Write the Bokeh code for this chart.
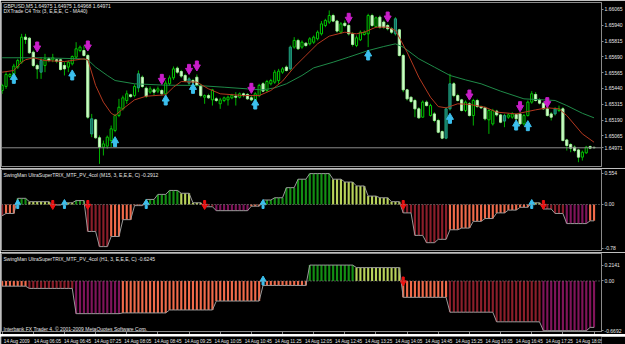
import numpy as np
from bokeh.plotting import figure
from bokeh.layouts import column
from bokeh.models import Range1d, FixedTicker, PrintfTickFormatter, Label, Span
from bokeh.core.properties import value
from bokeh.embed import file_html
from bokeh.resources import INLINE

# ---------------- data ----------------
tick_idx = [0, 8, 16, 24, 32, 40, 48, 56, 64, 72, 80, 88, 96, 104, 112, 120, 128, 136, 144, 152]
tick_labels = ["14 Aug 2009", "14 Aug 06:05", "14 Aug 06:45", "14 Aug 07:25", "14 Aug 08:05",
               "14 Aug 08:45", "14 Aug 09:25", "14 Aug 10:05", "14 Aug 10:45", "14 Aug 11:25",
               "14 Aug 12:05", "14 Aug 12:45", "14 Aug 13:25", "14 Aug 14:05", "14 Aug 14:45",
               "14 Aug 15:25", "14 Aug 16:05", "14 Aug 16:45", "14 Aug 17:25", "14 Aug 18:05"]

opens = [1.65424, 1.65456, 1.65535, 1.65551, 1.65609, 1.65648, 1.65846, 1.65838, 1.65727, 1.65622,
         1.65569, 1.65622, 1.65675, 1.65667, 1.65667, 1.65667, 1.65622, 1.65609, 1.65635, 1.65688,
         1.65740, 1.65740, 1.65701, 1.65200, 1.65192, 1.65050, 1.64976, 1.64984, 1.65028, 1.65108,
         1.65226, 1.65279, 1.65345, 1.65390, 1.65384, 1.65445, 1.65529, 1.65442, 1.65411, 1.65429,
         1.65419, 1.65424, 1.65398, 1.65477, 1.65524, 1.65601, 1.65574, 1.65543, 1.65482, 1.65503,
         1.65529, 1.65464, 1.65371, 1.65384, 1.65350, 1.65358, 1.65319, 1.65345, 1.65350, 1.65366,
         1.65379, 1.65371, 1.65398, 1.65393, 1.65366, 1.65345, 1.65384, 1.65477, 1.65424, 1.65477,
         1.65490, 1.65503, 1.65569, 1.65609, 1.65595, 1.65767, 1.65820, 1.65767, 1.65798, 1.65793,
         1.65806, 1.65833, 1.65872, 1.65938, 1.65965, 1.66017, 1.65973, 1.65885, 1.65956, 1.65938,
         1.65872, 1.65780, 1.65825, 1.65867, 1.65872, 1.66017, 1.65930, 1.66004, 1.65965, 1.65938,
         1.65912, 1.65872, 1.65904, 1.65701, 1.65429, 1.65371, 1.65345, 1.65279, 1.65213, 1.65332,
         1.65226, 1.65239, 1.65187, 1.65099, 1.65047, 1.65279, 1.65477, 1.65384, 1.65350, 1.65266,
         1.65319, 1.65226, 1.65345, 1.65297, 1.65287, 1.65192, 1.65160, 1.65261, 1.65231, 1.65182,
         1.65213, 1.65213, 1.65234, 1.65239, 1.65160, 1.65226, 1.65332, 1.65393, 1.65350, 1.65324,
         1.65279, 1.65239, 1.65239, 1.65266, 1.65279, 1.65033, 1.64997, 1.64976, 1.64954, 1.64897,
         1.64931, 1.64981, 1.64975]
highs = [1.65477, 1.65569, 1.65561, 1.65635, 1.65675, 1.65872, 1.65872, 1.65846, 1.65740, 1.65635,
         1.65688, 1.65714, 1.65688, 1.65714, 1.65675, 1.65675, 1.65648, 1.65661, 1.65701, 1.65806,
         1.65780, 1.65780, 1.65714, 1.65239, 1.65200, 1.65068, 1.65028, 1.65068, 1.65147, 1.65239,
         1.65358, 1.65384, 1.65424, 1.65398, 1.65472, 1.65582, 1.65543, 1.65456, 1.65456, 1.65445,
         1.65456, 1.65437, 1.65503, 1.65543, 1.65614, 1.65614, 1.65587, 1.65556, 1.65529, 1.65516,
         1.65551, 1.65477, 1.65393, 1.65398, 1.65437, 1.65371, 1.65366, 1.65376, 1.65384, 1.65398,
         1.65411, 1.65408, 1.65408, 1.65403, 1.65384, 1.65411, 1.65477, 1.65490, 1.65508, 1.65516,
         1.65587, 1.65595, 1.65609, 1.65622, 1.65780, 1.65846, 1.65833, 1.65820, 1.65806, 1.65846,
         1.65859, 1.65899, 1.65973, 1.65991, 1.66057, 1.66031, 1.65983, 1.65965, 1.65978, 1.65951,
         1.65885, 1.65859, 1.65899, 1.65899, 1.66031, 1.66031, 1.66009, 1.66017, 1.65978, 1.65951,
         1.65925, 1.66004, 1.65912, 1.65714, 1.65437, 1.65376, 1.65358, 1.65292, 1.65345, 1.65345,
         1.65319, 1.65253, 1.65200, 1.65108, 1.65292, 1.65556, 1.65490, 1.65398, 1.65358, 1.65345,
         1.65332, 1.65358, 1.65358, 1.65305, 1.65297, 1.65279, 1.65279, 1.65271, 1.65239, 1.65239,
         1.65244, 1.65253, 1.65244, 1.65253, 1.65239, 1.65345, 1.65419, 1.65411, 1.65363, 1.65332,
         1.65292, 1.65253, 1.65292, 1.65305, 1.65292, 1.65042, 1.65007, 1.64989, 1.64963, 1.64949,
         1.64986, 1.64989, 1.64975]
lows = [1.65398, 1.65437, 1.65524, 1.65543, 1.65595, 1.65635, 1.65793, 1.65714, 1.65609, 1.65516,
        1.65516, 1.65569, 1.65648, 1.65648, 1.65640, 1.65582, 1.65543, 1.65569, 1.65622, 1.65675,
        1.65727, 1.65693, 1.65200, 1.65055, 1.65042, 1.64844, 1.64910, 1.64963, 1.64976, 1.65094,
        1.65213, 1.65266, 1.65319, 1.65366, 1.65371, 1.65411, 1.65445, 1.65366, 1.65398, 1.65384,
        1.65403, 1.65384, 1.65384, 1.65464, 1.65508, 1.65556, 1.65524, 1.65490, 1.65464, 1.65477,
        1.65456, 1.65371, 1.65319, 1.65358, 1.65305, 1.65332, 1.65279, 1.65332, 1.65305, 1.65355,
        1.65305, 1.65361, 1.65371, 1.65350, 1.65340, 1.65332, 1.65371, 1.65411, 1.65411, 1.65464,
        1.65477, 1.65477, 1.65556, 1.65574, 1.65582, 1.65754, 1.65745, 1.65754, 1.65767, 1.65780,
        1.65793, 1.65820, 1.65859, 1.65925, 1.65951, 1.65965, 1.65882, 1.65872, 1.65925, 1.65859,
        1.65772, 1.65767, 1.65815, 1.65859, 1.65767, 1.65925, 1.65920, 1.65912, 1.65912, 1.65899,
        1.65872, 1.65859, 1.65693, 1.65411, 1.65345, 1.65324, 1.65213, 1.65200, 1.65208, 1.65297,
        1.65218, 1.65173, 1.65086, 1.65039, 1.65039, 1.65266, 1.65371, 1.65337, 1.65258, 1.65253,
        1.65218, 1.65147, 1.65287, 1.65279, 1.65187, 1.65081, 1.65147, 1.65218, 1.65165, 1.65134,
        1.65200, 1.65200, 1.65187, 1.65155, 1.65147, 1.65218, 1.65319, 1.65337, 1.65314, 1.65271,
        1.65218, 1.65187, 1.65226, 1.65253, 1.65023, 1.64949, 1.64936, 1.64936, 1.64857, 1.64870,
        1.64923, 1.64960, 1.64968]
closes = [1.65464, 1.65551, 1.65551, 1.65617, 1.65661, 1.65846, 1.65828, 1.65722, 1.65622, 1.65595,
          1.65661, 1.65675, 1.65661, 1.65683, 1.65656, 1.65590, 1.65595, 1.65648, 1.65693, 1.65754,
          1.65767, 1.65701, 1.65213, 1.65081, 1.65050, 1.64976, 1.65002, 1.65055, 1.65121, 1.65226,
          1.65292, 1.65366, 1.65398, 1.65376, 1.65456, 1.65556, 1.65456, 1.65379, 1.65437, 1.65411,
          1.65437, 1.65398, 1.65482, 1.65524, 1.65595, 1.65569, 1.65538, 1.65503, 1.65516, 1.65490,
          1.65464, 1.65384, 1.65384, 1.65366, 1.65429, 1.65345, 1.65350, 1.65366, 1.65371, 1.65387,
          1.65371, 1.65398, 1.65384, 1.65358, 1.65350, 1.65398, 1.65464, 1.65419, 1.65495, 1.65503,
          1.65569, 1.65577, 1.65595, 1.65582, 1.65767, 1.65820, 1.65754, 1.65806, 1.65780, 1.65833,
          1.65846, 1.65885, 1.65951, 1.65978, 1.66017, 1.65973, 1.65894, 1.65951, 1.65938, 1.65872,
          1.65788, 1.65841, 1.65885, 1.65885, 1.66017, 1.65938, 1.65999, 1.65925, 1.65925, 1.65912,
          1.65885, 1.65991, 1.65701, 1.65429, 1.65358, 1.65337, 1.65279, 1.65208, 1.65332, 1.65305,
          1.65305, 1.65187, 1.65094, 1.65047, 1.65279, 1.65477, 1.65384, 1.65345, 1.65266, 1.65332,
          1.65226, 1.65345, 1.65297, 1.65287, 1.65200, 1.65266, 1.65266, 1.65231, 1.65173, 1.65226,
          1.65231, 1.65239, 1.65200, 1.65160, 1.65226, 1.65332, 1.65398, 1.65345, 1.65324, 1.65279,
          1.65226, 1.65213, 1.65279, 1.65279, 1.65028, 1.64989, 1.64968, 1.64949, 1.64897, 1.64936,
          1.64976, 1.64968, 1.64971]
teal_bars = [10, 23, 35, 48, 74, 101, 114, 115, 129, 142]

ma_fast_idx = [0, 3, 5, 6, 8, 11, 16, 21, 22, 24, 26, 28, 29, 31, 34, 37, 42, 44, 46, 50, 53, 56, 62,
               66, 69, 72, 75, 78, 81, 84, 88, 91, 93, 96, 99, 101, 104, 107, 110, 112, 114, 117, 120,
               124, 127, 132, 137, 140, 143, 145, 149, 152]
ma_fast_val = [1.65569, 1.65582, 1.65648, 1.65667, 1.65683, 1.65661, 1.65653, 1.65675, 1.65667, 1.65464,
               1.65332, 1.65244, 1.65226, 1.65279, 1.65350, 1.65379, 1.65390, 1.65450, 1.65495, 1.65490,
               1.65437, 1.65398, 1.65384, 1.65384, 1.65424, 1.65498, 1.65609, 1.65701, 1.65793, 1.65854,
               1.65885, 1.65872, 1.65885, 1.65925, 1.65925, 1.65899, 1.65727, 1.65529, 1.65371, 1.65297,
               1.65287, 1.65319, 1.65314, 1.65292, 1.65253, 1.65239, 1.65271, 1.65287, 1.65279, 1.65226,
               1.65081, 1.65015]
ma_slow_idx = [0, 10, 20, 22, 24, 27, 29, 34, 42, 50, 57, 63, 67, 70, 73, 77, 80, 85, 89, 94, 98, 101,
               103, 107, 111, 115, 119, 123, 128, 134, 139, 142, 145, 149, 152]
ma_slow_val = [1.65683, 1.65683, 1.65675, 1.65667, 1.65609, 1.65543, 1.65503, 1.65477, 1.65466, 1.65464,
               1.65450, 1.65437, 1.65429, 1.65445, 1.65477, 1.65543, 1.65603, 1.65648, 1.65688, 1.65740,
               1.65772, 1.65793, 1.65767, 1.65675, 1.65609, 1.65543, 1.65508, 1.65477, 1.65419, 1.65358,
               1.65350, 1.65345, 1.65305, 1.65244, 1.65208]

sig_down_idx = [9, 22, 41, 48, 50, 64, 89, 99, 120, 133, 140]
sig_down_price = [1.65772, 1.65780, 1.65516, 1.65595, 1.65622, 1.65445, 1.65999, 1.66009, 1.65392,
                  1.65300, 1.65332]
sig_up_idx = [3, 18, 29, 42, 49, 65, 94, 115, 132, 135]
sig_up_price = [1.65516, 1.65543, 1.65015, 1.65345, 1.65437, 1.65313, 1.65701, 1.65200, 1.65147, 1.65142]

price_ticks = [1.64815, 1.65065, 1.65190, 1.65315, 1.65440, 1.65565, 1.65690, 1.65815,
               1.65940, 1.66065]

# M15 TRIX (one value per M15 block, block length in M5 bars)
m15_len = [1] + [3] * 50 + [2]
m15_val = [-0.20, -0.16, 0.11, 0.05, 0.05, -0.01, 0.03, 0.07, -0.48, -0.75, -0.57, -0.27, -0.02,
           0.09, 0.18, 0.25, 0.20, 0.03, -0.04, -0.11, -0.11, -0.11, -0.03, 0.08, 0.12, 0.30, 0.45,
           0.55, 0.55, 0.45, 0.40, 0.33, 0.15, 0.12, 0.05, -0.15, -0.55, -0.68, -0.62, -0.45, -0.42,
           -0.30, -0.25, -0.15, -0.10, -0.05, 0.03, -0.08, -0.16, -0.34, -0.34, -0.2912]
m15_col = ["m", "s", "g", "y", "y", "s", "y", "g", "m", "m", "s", "s", "s",
           "g", "g", "g", "y", "y", "m", "p", "p", "p", "s", "g", "g", "g", "g",
           "g", "g", "y", "y", "y", "y", "y", "y", "m", "m", "m", "m", "s", "s",
           "s", "s", "s", "s", "s", "y", "m", "m", "p", "p", "s"]
m15_up_idx = [4, 16, 37, 67, 136]
m15_down_idx = [13, 22, 52, 103, 139]
m15_ticks = [-0.78, 0.0, 0.554]

# H1 TRIX
h1_len = [7, 12, 12, 12, 12, 12, 12, 12, 12, 12, 12, 12, 12, 2]
h1_val = [-0.07, -0.10, -0.44, -0.43, -0.39, -0.27, -0.06, 0.2141, 0.18, -0.22, -0.42, -0.55, -0.6692, -0.6245]
h1_col = ["s", "m", "p", "s", "s", "s", "s", "g", "y", "s", "m", "m", "p", "p"]
h1_up_idx = [67]
h1_down_idx = [103]
h1_ticks = [-0.6692, 0.0, 0.2141]

palette = {"g": "#138f13", "y": "#b8d25a", "s": "#f06a4a", "m": "#8b1e2a", "p": "#80145a"}

# ---------------- layout constants ----------------
W = 625
BL, BR = 1, 20
FRAME_W = W - BL - BR
BAR_PX = 3.92
x_start = -0.166
x_end = x_start + FRAME_W / BAR_PX
xr = Range1d(x_start, x_end)
FONT = "Liberation Sans"
GREY = "#8a8a8a"
TXT = "#e6e6e6"


def make_fig(h, y0, y1, top, bottom, xaxis=False):
    p = figure(width=W, height=h, x_range=xr, y_range=Range1d(y0, y1),
               output_backend="svg", toolbar_location=None,
               x_axis_location="below" if xaxis else None, y_axis_location="right",
               min_border_left=BL, min_border_right=BR, min_border_top=top, min_border_bottom=bottom,
               background_fill_color="black", border_fill_color="black",
               outline_line_color=GREY, outline_line_width=1)
    p.xgrid.visible = False
    p.ygrid.visible = False
    for ax in p.yaxis:
        ax.major_label_text_font_size = "5px"
        ax.major_label_text_font = FONT
        ax.major_label_text_color = TXT
        ax.major_tick_out = 2
        ax.major_tick_in = 0
        ax.major_label_standoff = 1
        ax.major_tick_line_color = GREY
        ax.axis_line_color = GREY
        ax.minor_tick_line_color = None
    return p


def arrows(p, xs, ys, color, up, ppp, head=7, sw=3, sh=4):
    ys = np.asarray(ys, dtype=float)
    xs = list(xs)
    if up:
        p.scatter(xs, ys + 1.5 * ppp, marker="triangle", size=head, color=color)
        p.rect(xs, ys - 2.5 * ppp, width=sw, height=sh, width_units="screen",
               height_units="screen", color=color)
    else:
        p.scatter(xs, ys - 1.5 * ppp, marker="inverted_triangle", size=head, color=color)
        p.rect(xs, ys + 2.5 * ppp, width=sw, height=sh, width_units="screen",
               height_units="screen", color=color)


def add_text(p, x, y, text, size="5px", color=TXT):
    p.add_layout(Label(x=x, y=y, x_units="screen", y_units="screen", text=text,
                       text_font=FONT, text_font_size=size, text_color=color,
                       text_baseline="middle", text_align="left", level="overlay"))


# ---------------- main price panel ----------------
H1, T1, B1 = 168, 2, 2
F1 = H1 - T1 - B1
y0, y1 = 1.64823, 1.66120
ppp1 = (y1 - y0) / F1
p1 = make_fig(H1, y0, y1, T1, B1)
p1.yaxis[0].ticker = FixedTicker(ticks=price_ticks + [closes[-1]])
p1.yaxis[0].formatter = PrintfTickFormatter(format="%.5f")

idx = np.arange(len(opens))
o = np.array(opens); c = np.array(closes); hi = np.array(highs); lo = np.array(lows)
bull = c >= o
teal = np.isin(idx, teal_bars)
p1.add_layout(Span(location=closes[-1], dimension="width", line_color=GREY, line_width=1))
p1.segment(x0=idx, y0=lo, x1=idx, y1=hi, line_color="#00b400", line_width=1)
m = bull & ~teal
p1.vbar(x=idx[m], width=0.55, top=c[m], bottom=o[m], fill_color="black", line_color="#00c800")
m = ~bull & ~teal
p1.vbar(x=idx[m], width=0.55, top=o[m], bottom=c[m], fill_color="#d4ffd0", line_color="#a8f0a0")
p1.vbar(x=idx[teal], width=0.55, top=np.maximum(o, c)[teal], bottom=np.minimum(o, c)[teal],
        fill_color="#0f6a5c", line_color="#21a07e")
p1.line(ma_slow_idx, ma_slow_val, line_color="#1f8a48", line_width=1)
p1.line(ma_fast_idx, ma_fast_val, line_color="#b3381f", line_width=1)
arrows(p1, sig_down_idx, sig_down_price, "#c81ec8", False, ppp1)
arrows(p1, sig_up_idx, sig_up_price, "#3cc0ee", True, ppp1)
add_text(p1, 2, F1 - 3, "GBPUSD,M5  %.5f %.5f %.5f %.5f" % (opens[-1], highs[-1], lows[-1], closes[-1]))
add_text(p1, 2, F1 - 8, "DXTrade C4 Trix (3, E,E,E, C - MA40)")


# ---------------- indicator panels ----------------
def expand(lens, vals, cols):
    v = np.repeat(np.array(vals, dtype=float), lens)
    cc = np.repeat(np.array(cols), lens)
    return v, cc


def trix_panel(h, top, bottom, yr, lens, vals, cols, ticks, up_idx, down_idx, title, xaxis=False):
    p = make_fig(h, yr[0], yr[1], top, bottom, xaxis=xaxis)
    f = h - top - bottom
    ppp = (yr[1] - yr[0]) / f
    v, cc = expand(lens, vals, cols)
    ii = np.arange(len(v))
    for key, colr in palette.items():
        mk = cc == key
        if mk.any():
            p.vbar(x=ii[mk], width=0.55, top=v[mk], bottom=0, fill_color=colr, line_color=None)
    p.line(ii, v, line_color="#9a9a9a", line_width=1)
    p.add_layout(Span(location=0, dimension="width", line_color=GREY, line_dash="1 2", line_width=1))
    arrows(p, up_idx, [0.0] * len(up_idx), "#3cc0ee", True, ppp, head=6, sw=2, sh=3)
    arrows(p, down_idx, [0.0] * len(down_idx), "#ee1010", False, ppp, head=6, sw=2, sh=3)
    ax = p.yaxis[0]
    ax.ticker = FixedTicker(ticks=ticks)
    ax.major_label_overrides = {t: ("0.00" if t == 0 else ("%g" % t)) for t in ticks}
    add_text(p, 2, f - 5, title)
    return p, f


p2, F2 = trix_panel(84, 1, 2, (-0.819, 0.623), m15_len, m15_val, m15_col, m15_ticks,
                    m15_up_idx, m15_down_idx,
                    "SwingMan UltraSuperTRIX_MTF_PV_4col (M15, 3, E,E,E, C) %.4f" % m15_val[-1])
p3, F3 = trix_panel(82, 1, 3, (-0.68, 0.37), h1_len, h1_val, h1_col, h1_ticks,
                    h1_up_idx, h1_down_idx,
                    "SwingMan UltraSuperTRIX_MTF_PV_4col (H1, 3, E,E,E, C) %.4f" % h1_val[-1], xaxis=True)
add_text(p3, 2, 3, "Interbank FX Trader 4, \u00a9 2001-2009 MetaQuotes Software Corp.")

# tick marks only (at the bar of each label)
xa = p3.xaxis[0]
xa.ticker = FixedTicker(ticks=tick_idx)
xa.major_label_overrides = {t: "" for t in tick_idx}
xa.major_label_text_font_size = "0px"
xa.major_label_standoff = 0
xa.major_tick_out = 3
xa.major_tick_in = 0
xa.major_tick_line_color = GREY
xa.axis_line_color = GREY
xa.minor_tick_line_color = None

# time-scale strip: labels start at their bar, as in the terminal
H4 = 10
x4_start = x_start - BL / BAR_PX
p4 = figure(width=W, height=H4, x_range=Range1d(x4_start, x4_start + W / BAR_PX), y_range=Range1d(0, 1),
            output_backend="svg", toolbar_location=None, x_axis_location=None, y_axis_location=None,
            min_border_left=0, min_border_right=0, min_border_top=0, min_border_bottom=0,
            background_fill_color="black", border_fill_color="black", outline_line_color=None)
p4.xgrid.visible = False
p4.ygrid.visible = False
p4.text(x=[t + 0.2 for t in tick_idx], y=[0.5] * len(tick_idx), text=tick_labels,
        text_font=value(FONT), text_font_size=value("4.6px"), text_color=TXT,
        text_font_style="normal", text_align="left", text_baseline="middle")

layout = column(p1, p2, p3, p4, spacing=0)
open("out.html", "w").write(file_html(layout, INLINE, "GBPUSD M5"))
